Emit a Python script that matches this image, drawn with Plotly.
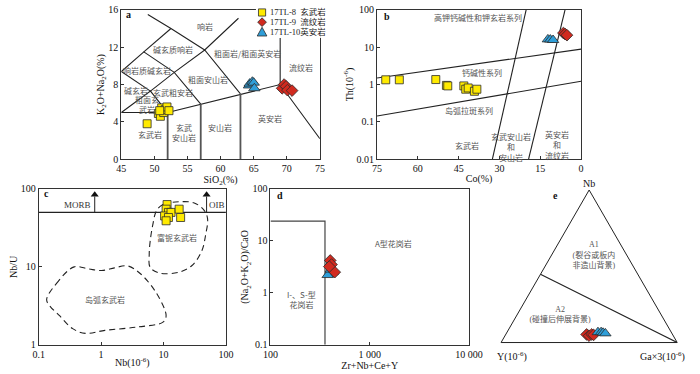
import numpy as np
import plotly.graph_objects as go

W, H = 700, 374
SERIF = "Liberation Serif, Noto Sans CJK SC"
CJK = "Noto Sans CJK SC"

# ---------------- data ----------------
series_names = ["17TL-8  玄武岩", "17TL-9  流纹岩", "17TL-10英安岩"]

# a: TAS
a_sio2_8 = [48.9, 50.6, 50.9, 51.1, 51.4, 51.6, 51.9, 52.2, 50.8]
a_alk_8 = [3.8, 4.9, 4.6, 5.5, 5.0, 5.3, 5.6, 5.2, 5.2]
a_sio2_9 = [69.3, 69.6, 69.9, 70.1, 70.8]
a_alk_9 = [7.6, 8.0, 7.8, 7.4, 7.35]
a_sio2_10 = [64.3, 64.4, 64.8, 65.0, 65.1]
a_alk_10 = [7.9, 8.1, 8.3, 8.2, 7.6]

# b: Th-Co
b_co_8 = [71.8, 66.8, 53.4, 49.5, 49.0, 43.1, 42.4, 41.5, 39.2, 38.3]
b_th_8 = [1.34, 1.34, 1.36, 0.95, 0.92, 0.92, 0.75, 0.81, 0.66, 0.75]
b_co_9 = [6.5, 5.9, 5.2]
b_th_9 = [24.0, 22.5, 21.0]
b_co_10 = [12.2, 11.3, 10.3]
b_th_10 = [16.2, 16.0, 15.6]

# c: Nb/U - Nb
c_nb_8 = [11.4, 11.0, 12.0, 10.4, 13.2, 12.0, 11.0, 17.8, 18.8]
c_nbu_8 = [63, 55, 50, 45, 50, 43, 39, 55, 43]

# d: (Na2O+K2O)/CaO - Zr+Nb+Ce+Y
d_sum_9 = [400, 412, 444, 391]
d_ratio_9 = [4.2, 3.5, 2.5, 3.2]
d_sum_10 = [391, 421, 377, 405]
d_ratio_10 = [2.3, 2.5, 2.2, 2.8]

# e: Nb - Y - Ga*3 (fractions)
e_nb_9 = [0.053, 0.045, 0.053, 0.050]
e_y_9 = [0.488, 0.478, 0.459, 0.450]
e_ga_9 = [0.459, 0.477, 0.488, 0.500]
e_nb_10 = [0.068, 0.068, 0.064, 0.060]
e_y_10 = [0.416, 0.398, 0.389, 0.378]
e_ga_10 = [0.516, 0.534, 0.547, 0.562]

# classification boundaries
tas_x = [45, 52, None, 52, 57, 63, 69, 75, None, 69, 69, None,
         45, 49.4, 52, None, 49.4, 53, 57, None, 53, 57.6, 63, None,
         45, 49.4, None, 45, 48.4, 53, None, 48.4, 52.5, None,
         49.0, 52.5, 57.6, 62.7]
tas_y = [5, 5, None, 5, 5.9, 7, 8, 2.2, None, 8, 13, None,
         5, 7.3, 5, None, 7.3, 9.3, 5.9, None, 9.3, 11.7, 7, None,
         9.4, 7.3, None, 9.4, 11.5, 9.3, None, 11.5, 14, None,
         15.5, 14, 11.7, 15.1]
tas_vx = [52, 52, None, 57, 57, None, 63, 63]
tas_vy = [0, 5, None, 0, 5.9, None, 0, 7]
tas_labels = [("响岩", 57.6, 14.2), ("碱玄质响岩", 52.8, 11.8),
              ("粗面岩/粗面英安岩", 64.0, 11.3), ("响岩质碱玄岩", 48.9, 9.5),
              ("粗面安山岩", 58.1, 8.5), ("碱玄岩", 47.2, 7.4),
              ("玄武粗安岩", 52.8, 7.15), ("粗面玄<br>武岩", 48.9, 5.9),
              ("流纹岩", 72.1, 9.85), ("英安岩", 67.4, 4.4),
              ("安山岩", 59.9, 3.35), ("玄武<br>安山岩", 54.5, 2.9),
              ("玄武岩", 49.4, 2.6)]

b_line_co = [75, 0, None, 75, 0, None, 32.6, 20.2, None, 19.3, 5.9]
b_line_th = [1.5, 8.9, None, 0.143, 1.23, None, 0.01, 100, None, 0.01, 100]
b_labels = [("高钾钙碱性和钾玄岩系列", 38.0, 63), ("钙碱性系列", 36.6, 2.12),
            ("岛弧拉斑系列", 41.3, 0.2), ("玄武岩", 42.1, 0.0237),
            ("玄武安山岩<br>和<br>安山岩", 25.9, 0.0214),
            ("英安岩<br>和<br>流纹岩", 8.9, 0.0237)]

c_line_nb = [0.1, 100]
c_line_nbu = [50, 50]
c_hnb_nb = [7.7, 9.8, 17.8, 30.4, 43.5, 50.7, 47.2, 40.9, 28.6, 17.8, 8.7, 6.1, 5.9, 6.1, 6.7, 7.7]
c_hnb_nbu = [52.3, 63.2, 68.4, 66.4, 54.8, 42, 25.5, 15.9, 10.4, 8.55, 8.3, 9.87, 14.4, 21.1, 34, 52.3]
c_arc_nb = [0.134, 0.192, 0.37, 0.63, 1.02, 1.64, 2.64, 4.27, 7.7, 11, 9.8, 3.78, 1.15, 0.56, 0.35, 0.216, 0.151, 0.134]
c_arc_nbu = [3.8, 6.1, 10.0, 9.4, 8.97, 9.7, 10.3, 8.15, 4.6, 2.36, 1.95, 1.69, 1.53, 1.4, 1.61, 2.36, 3.14, 3.8]
c_arrow_nb = [0.79, 0.79, None, 49, 49]
c_arrow_nbu = [50, 80, None, 50, 80]
c_head_nb = [0.79, 49]
c_head_nbu = [84, 84]

d_box_sum = [100, 354, 354]
d_box_ratio = [24, 24, 0.1]

e_line_nb = [0.447, 0]
e_line_y = [0.553, 0]
e_line_ga = [0, 1]

# ---------------- style ----------------
YEL, RED, BLU = "#ffea00", "#d12a1f", "#2f9ed8"
EDGE = dict(color="#2b2b2b", width=0.8)
sq = dict(symbol="square", size=8, color=YEL, line=EDGE)
dm = dict(symbol="diamond", size=9, color=RED, line=EDGE)
tr = dict(symbol="triangle-up", size=10, color=BLU, line=EDGE)


def fx(p):
    return p / W


def fy(p):
    return 1 - p / H


fig = go.Figure()

# a
fig.add_trace(go.Scatter(x=tas_x, y=tas_y, mode="lines", line=dict(color="#222", width=1.1),
                         xaxis="x", yaxis="y", hoverinfo="skip"))
fig.add_trace(go.Scatter(x=tas_vx, y=tas_vy, mode="lines", line=dict(color="#555", width=1.8),
                         xaxis="x", yaxis="y", hoverinfo="skip"))
fig.add_trace(go.Scatter(x=a_sio2_8, y=a_alk_8, mode="markers", marker=sq, xaxis="x", yaxis="y"))
fig.add_trace(go.Scatter(x=a_sio2_9, y=a_alk_9, mode="markers", marker=dm, xaxis="x", yaxis="y"))
fig.add_trace(go.Scatter(x=a_sio2_10, y=a_alk_10, mode="markers", marker=tr, xaxis="x", yaxis="y"))

# b
fig.add_trace(go.Scatter(x=b_line_co, y=b_line_th, mode="lines", line=dict(color="#222", width=1.1),
                         xaxis="x2", yaxis="y2", hoverinfo="skip"))
fig.add_trace(go.Scatter(x=b_co_8, y=b_th_8, mode="markers", marker=sq, xaxis="x2", yaxis="y2"))
fig.add_trace(go.Scatter(x=b_co_10, y=b_th_10, mode="markers", marker=tr, xaxis="x2", yaxis="y2"))
fig.add_trace(go.Scatter(x=b_co_9, y=b_th_9, mode="markers", marker=dm, xaxis="x2", yaxis="y2"))

# c
fig.add_trace(go.Scatter(x=c_line_nb, y=c_line_nbu, mode="lines", line=dict(color="#222", width=1.1),
                         xaxis="x3", yaxis="y3", hoverinfo="skip"))
fig.add_trace(go.Scatter(x=c_arrow_nb, y=c_arrow_nbu, mode="lines", line=dict(color="#222", width=1),
                         xaxis="x3", yaxis="y3", hoverinfo="skip"))
fig.add_trace(go.Scatter(x=c_head_nb, y=c_head_nbu, mode="markers",
                         marker=dict(symbol="triangle-up", size=7, color="#111"),
                         xaxis="x3", yaxis="y3", hoverinfo="skip"))
for px_, py_ in [(c_hnb_nb, c_hnb_nbu), (c_arc_nb, c_arc_nbu)]:
    fig.add_trace(go.Scatter(x=px_, y=py_, mode="lines", line=dict(color="#222", width=1.1, dash="6px,4px"),
                             line_shape="spline", xaxis="x3", yaxis="y3", hoverinfo="skip"))
fig.add_trace(go.Scatter(x=c_nb_8, y=c_nbu_8, mode="markers", marker=sq, xaxis="x3", yaxis="y3"))

# d
fig.add_trace(go.Scatter(x=d_box_sum, y=d_box_ratio, mode="lines", line=dict(color="#444", width=1.2),
                         xaxis="x4", yaxis="y4", hoverinfo="skip"))
fig.add_trace(go.Scatter(x=d_sum_10, y=d_ratio_10, mode="markers", marker=tr, xaxis="x4", yaxis="y4"))
fig.add_trace(go.Scatter(x=d_sum_9, y=d_ratio_9, mode="markers", marker=dm, xaxis="x4", yaxis="y4"))

# e
fig.add_trace(go.Scatterternary(a=e_line_nb, b=e_line_y, c=e_line_ga, mode="lines",
                                line=dict(color="#222", width=1.1), hoverinfo="skip"))
fig.add_trace(go.Scatterternary(a=e_nb_9, b=e_y_9, c=e_ga_9, mode="markers", marker=dm))
fig.add_trace(go.Scatterternary(a=e_nb_10, b=e_y_10, c=e_ga_10, mode="markers", marker=tr))
fig.add_trace(go.Scatterternary(a=[0.57, 0.18], b=[0.188, 0.575], c=[0.242, 0.245], mode="text",
                                text=["A1<br>(裂谷或板内<br>非造山背景)", "A2<br>(碰撞后伸展背景)"],
                                textfont=dict(family=SERIF, size=8, color="#555"), hoverinfo="skip"))

ax = dict(showline=True, linecolor="#333", linewidth=1, mirror=True, ticks="inside", ticklen=3,
          tickcolor="#333", showgrid=False, zeroline=False,
          tickfont=dict(family=SERIF, size=10, color="#111"),
          title_font=dict(family=SERIF, size=10, color="#111"))
tern_ax = dict(showticklabels=False, ticks="", showgrid=False, linecolor="#222", linewidth=1)

fig.update_layout(
    width=W, height=H, margin=dict(l=0, r=0, t=0, b=0),
    paper_bgcolor="white", plot_bgcolor="white", showlegend=False,
    xaxis=dict(ax, domain=[fx(117), fx(322)], range=[45, 75], tickvals=[45, 50, 55, 60, 65, 70, 75],
               title=dict(text="SiO<sub>2</sub>(%)", standoff=1), anchor="y"),
    yaxis=dict(ax, domain=[fy(158.3), fy(4)], range=[0, 16], tickvals=[0, 4, 8, 12, 16],
               title=dict(text="K<sub>2</sub>O+Na<sub>2</sub>O(%)", standoff=1), anchor="x"),
    xaxis2=dict(ax, domain=[fx(381), fx(591.7)], range=[75, 0], tickvals=[75, 60, 45, 30, 15, 0],
                title=dict(text="Co(%)", standoff=1), anchor="y2"),
    yaxis2=dict(ax, domain=[fy(158.3), fy(4)], type="log", range=[-2, 2],
                tickvals=[0.01, 0.1, 1, 10, 100], ticktext=["0.01", "0.1", "1", "10", "100"],
                title=dict(text="Th(10<sup>-6</sup>)", standoff=1), anchor="x2"),
    xaxis3=dict(ax, domain=[fx(31.7), fx(225)], type="log", range=[-1, 2],
                tickvals=[0.1, 1, 10, 100], ticktext=["0.1", "1", "10", "100"],
                title=dict(text="Nb(10<sup>-6</sup>)", standoff=0), anchor="y3"),
    yaxis3=dict(ax, domain=[fy(350), fy(189)], type="log", range=[0, 2],
                tickvals=[1, 10, 100], ticktext=["1", "10", "100"],
                title=dict(text="Nb/U", standoff=1), anchor="x3"),
    xaxis4=dict(ax, domain=[fx(271), fx(476)], type="log", range=[2, 4],
                tickvals=[100, 1000, 10000], ticktext=["100", "1 000", "10 000"],
                title=dict(text="Zr+Nb+Ce+Y", standoff=0), anchor="y4"),
    yaxis4=dict(ax, domain=[fy(350), fy(189)], type="log", range=[-1, 2],
                tickvals=[0.1, 1, 10, 100], ticktext=["0.1", "1", "10", "100"],
                title=dict(text="(Na<sub>2</sub>O+K<sub>2</sub>O)/CaO", standoff=1), anchor="x4"),
    ternary=dict(
        domain=dict(x=[fx(509), fx(691)], y=[fy(347.7), fy(190.1)]),
        bgcolor="white", sum=1,
        aaxis=dict(tern_ax, title=dict(text="Nb", font=dict(family=SERIF, size=10, color="#111"))),
        baxis=dict(tern_ax, title=dict(text="")),
        caxis=dict(tern_ax, title=dict(text="")),
    ),
)

# region labels
anns = []
for t, x, y in tas_labels:
    anns.append(dict(text=t, x=x, y=y, xref="x", yref="y", showarrow=False,
                     font=dict(family=CJK, size=8, color="#555")))
for t, x, y in b_labels:
    anns.append(dict(text=t, x=x, y=np.log10(y), xref="x2", yref="y2", showarrow=False,
                     font=dict(family=CJK, size=8, color="#555")))
anns.append(dict(text="富铌玄武岩", x=np.log10(16.7), y=np.log10(23.7), xref="x3", yref="y3",
                 showarrow=False, font=dict(family=CJK, size=8, color="#555")))
anns.append(dict(text="岛弧玄武岩", x=np.log10(1.15), y=np.log10(3.8), xref="x3", yref="y3",
                 showarrow=False, font=dict(family=CJK, size=8, color="#555")))
anns.append(dict(text="MORB", x=np.log10(0.42), y=np.log10(62), xref="x3", yref="y3",
                 showarrow=False, font=dict(family=SERIF, size=9, color="#333")))
anns.append(dict(text="OIB", x=np.log10(72), y=np.log10(62), xref="x3", yref="y3",
                 showarrow=False, font=dict(family=SERIF, size=9, color="#333")))
anns.append(dict(text="A型花岗岩", x=np.log10(1746), y=np.log10(9.06), xref="x4", yref="y4",
                 showarrow=False, font=dict(family=CJK, size=8, color="#555")))
anns.append(dict(text="I-、S-型<br>花岗岩", x=np.log10(207), y=np.log10(0.75), xref="x4", yref="y4",
                 showarrow=False, font=dict(family=CJK, size=8, color="#555")))

# ternary corner titles
anns.append(dict(text="Y(10<sup>-6</sup>)", x=fx(520), y=fy(362), xref="paper", yref="paper",
                 showarrow=False, xanchor="center", yanchor="middle",
                 font=dict(family=SERIF, size=10, color="#111")))
anns.append(dict(text="Ga×3(10<sup>-6</sup>)", x=fx(676), y=fy(362), xref="paper", yref="paper",
                 showarrow=False, xanchor="center", yanchor="middle",
                 font=dict(family=SERIF, size=10, color="#111")))

# panel letters
for t, x, y in [("a", 120, 9), ("b", 386, 11), ("c", 35, 194), ("d", 276, 196), ("e", 561, 196)]:
    anns.append(dict(text="<b>" + t + "</b>", x=fx(x), y=fy(y), xref="paper", yref="paper",
                     showarrow=False, xanchor="left", yanchor="middle",
                     font=dict(family=SERIF, size=10, color="#111")))

# legend for panel a
shapes = [dict(type="rect", xref="paper", yref="paper", x0=fx(256), x1=fx(323), y0=fy(33), y1=fy(0),
               fillcolor="white", line=dict(width=0), layer="above")]
kx = 262.3
rows = [6.7, 16.7, 27.0]
shapes.append(dict(type="rect", xref="paper", yref="paper", x0=fx(kx - 3.7), x1=fx(kx + 3.7),
                   y0=fy(rows[0] + 3.7), y1=fy(rows[0] - 3.7), fillcolor=YEL,
                   line=dict(color="#2b2b2b", width=0.8), layer="above"))
shapes.append(dict(type="path", xref="paper", yref="paper",
                   path=f"M {fx(kx)},{fy(rows[1]-4.5)} L {fx(kx+4.5)},{fy(rows[1])} "
                        f"L {fx(kx)},{fy(rows[1]+4.5)} L {fx(kx-4.5)},{fy(rows[1])} Z",
                   fillcolor=RED, line=dict(color="#2b2b2b", width=0.8), layer="above"))
shapes.append(dict(type="path", xref="paper", yref="paper",
                   path=f"M {fx(kx)},{fy(rows[2]-5)} L {fx(kx+5)},{fy(rows[2]+4)} "
                        f"L {fx(kx-5)},{fy(rows[2]+4)} Z",
                   fillcolor=BLU, line=dict(color="#2b2b2b", width=0.8), layer="above"))
for name, r in zip(series_names, rows):
    anns.append(dict(text=name, x=fx(268), y=fy(r), xref="paper", yref="paper", showarrow=False,
                     xanchor="left", yanchor="middle", font=dict(family=SERIF, size=8.5, color="#222")))

fig.update_layout(annotations=anns, shapes=shapes)

# page body has a default 8px margin; remove it so the chart sits at the window origin
fig.write_html("out.html", config={"displayModeBar": False},
               post_script="document.body.style.margin='0px';")
